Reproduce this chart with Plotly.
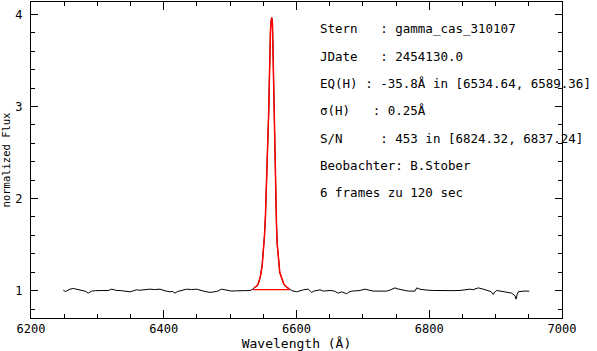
import plotly.graph_objects as go

# Spectrum (wavelength in Angstrom, normalized flux)
wavelength = [
    6248.7, 6252.0, 6258.8, 6263.8, 6268.0, 6273.8, 6281.4, 6286.3, 6291.4, 6297.0,
    6304.0, 6310.0, 6316.5, 6321.6, 6329.1, 6336.0, 6344.2, 6349.2, 6354.0, 6359.2,
    6364.0, 6369.2, 6379.3, 6386.0, 6394.4, 6401.9, 6409.4, 6413.0, 6417.0, 6420.5,
    6424.5, 6434.6, 6442.0, 6449.6, 6459.6, 6464.0, 6469.7, 6474.0, 6479.8, 6487.3,
    6494.8, 6502.4, 6508.0, 6514.9, 6522.0, 6529.9,
    6533.1, 6536.0, 6540.6, 6543.1, 6545.7, 6548.2, 6549.7, 6551.7, 6553.2, 6554.7,
    6555.7, 6556.7, 6558.2, 6559.2, 6559.7, 6560.8, 6561.8, 6562.7, 6563.8, 6564.3,
    6565.3, 6566.3, 6567.3, 6567.8, 6568.8, 6569.8, 6570.8, 6572.8, 6574.8, 6578.4,
    6580.9, 6585.9, 6589.0,
    6593.0, 6600.3, 6605.0, 6610.3, 6617.8, 6622.9, 6626.0, 6630.4, 6635.4, 6640.4,
    6650.5, 6657.0, 6663.0, 6668.0, 6671.0, 6675.6, 6679.0, 6683.2, 6690.0, 6695.7,
    6703.2, 6709.0, 6715.7, 6725.8, 6735.9, 6742.0, 6748.4, 6753.0, 6758.5, 6768.5,
    6778.5, 6781.1, 6786.0, 6791.1, 6798.0, 6806.1, 6816.0, 6826.3, 6836.0, 6846.3,
    6853.0, 6861.4, 6866.0, 6873.9, 6881.4, 6889.0, 6893.0, 6896.5, 6898.5, 6901.6,
    6909.1, 6916.7, 6924.2, 6929.2, 6930.7, 6932.5, 6934.2, 6941.7, 6950.7,
]
flux = [
    1.005, 0.990, 1.016, 1.024, 1.016, 1.009, 0.995, 0.973, 0.995, 1.000,
    1.002, 0.998, 1.002, 1.016, 1.002, 1.000, 0.995, 0.987, 0.998, 1.009,
    1.005, 1.009, 1.016, 1.012, 1.016, 0.998, 0.987, 0.992, 0.973, 0.990,
    0.998, 1.016, 1.012, 1.016, 0.995, 0.990, 0.981, 0.985, 0.991, 1.016,
    1.009, 0.995, 0.998, 1.002, 1.000, 1.002,
    1.010, 1.030, 1.052, 1.088, 1.160, 1.268, 1.375, 1.591, 1.807, 2.095,
    2.383, 2.599, 2.958, 3.317, 3.605, 3.821, 3.929, 3.964, 3.893, 3.677,
    3.317, 2.958, 2.599, 2.238, 1.951, 1.736, 1.520, 1.304, 1.196, 1.124,
    1.070, 1.035, 1.015,
    1.000, 0.987, 0.998, 1.009, 1.016, 0.981, 0.995, 1.002, 1.009, 0.995,
    1.002, 0.995, 0.973, 0.987, 0.980, 0.966, 0.985, 0.995, 0.998, 1.002,
    1.016, 1.005, 0.995, 0.995, 0.995, 1.010, 1.030, 1.018, 1.009, 0.995,
    0.995, 1.030, 1.015, 1.009, 1.005, 1.002, 1.000, 0.998, 1.000, 1.002,
    1.008, 1.016, 1.010, 1.030, 1.016, 1.002, 0.990, 0.959, 0.985, 1.002,
    0.995, 0.987, 0.973, 0.944, 0.908, 0.960, 0.987, 0.995, 0.995,
]

# Equivalent-width integration window and its continuum baseline
eq_window = [6534.64, 6589.36]
baseline_flux = [1.012, 1.012]

x_ticks = [6200, 6400, 6600, 6800, 7000]
y_ticks = [1, 2, 3, 4]

info_lines = [
    "Stern   : gamma_cas_310107",
    "JDate   : 2454130.0",
    "EQ(H) : -35.8Å in [6534.64, 6589.36]",
    "σ(H)   : 0.25Å",
    "S/N     : 453 in [6824.32, 6837.24]",
    "Beobachter: B.Stober",
    "6 frames zu 120 sec",
]

FONT = "DejaVu Sans Mono"

red_w = [w for w in wavelength if eq_window[0] <= w <= eq_window[1]]
red_f = [f for w, f in zip(wavelength, flux) if eq_window[0] <= w <= eq_window[1]]

fig = go.Figure()
fig.add_trace(go.Scatter(x=wavelength, y=flux, mode="lines",
                         line=dict(color="black", width=1), showlegend=False))
fig.add_trace(go.Scatter(x=red_w, y=red_f, mode="lines",
                         line=dict(color="red", width=1.5), showlegend=False))
fig.add_trace(go.Scatter(x=eq_window, y=baseline_flux, mode="lines",
                         line=dict(color="red", width=1.2), showlegend=False))

y0, dy = 0.915, 0.0865
for i, t in enumerate(info_lines):
    fig.add_annotation(text=t, xref="paper", yref="paper", x=0.541, y=y0 - i * dy,
                       xanchor="left", yanchor="middle", showarrow=False,
                       font=dict(family=FONT, size=12.5, color="black"))

axis_common = dict(showline=True, linecolor="black", linewidth=1, mirror="allticks",
                   ticks="inside", tickcolor="black", tickwidth=1, showgrid=False,
                   zeroline=False, tickfont=dict(family=FONT, size=12, color="black"))

fig.update_xaxes(range=[6200, 7000], tickvals=x_ticks, ticklen=8,
                 minor=dict(dtick=50, ticklen=4, ticks="inside", tickcolor="black",
                            tickwidth=1, showgrid=False),
                 title=dict(text="Wavelength (Å)", font=dict(family=FONT, size=13, color="black"),
                            standoff=4),
                 **axis_common)
fig.update_yaxes(range=[0.703, 4.134], tickvals=y_ticks, ticklen=7,
                 minor=dict(dtick=0.2, ticklen=4, ticks="inside", tickcolor="black",
                            tickwidth=1, showgrid=False),
                 title=dict(text="normalized Flux", font=dict(family=FONT, size=10.5, color="black"),
                            standoff=2),
                 ticklabelstandoff=5,
                 **axis_common)

fig.update_layout(width=597, height=351, margin=dict(l=31, r=35, t=1, b=32),
                  paper_bgcolor="white", plot_bgcolor="white")

fig.write_html("out.html")
